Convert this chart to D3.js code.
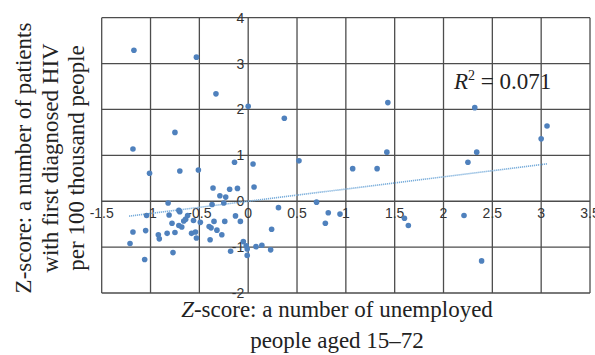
<!DOCTYPE html>
<html>
<head>
<meta charset="utf-8">
<script src="https://cdn.jsdelivr.net/npm/d3@7"></script>
<style>
  body { margin: 0; background: #fff; }
  svg { display: block; }
  .tick-label { font-family: "Liberation Sans", Arial, sans-serif; font-size: 14px; fill: #333; }
  .title { font-family: "Liberation Serif", "Times New Roman", serif; font-size: 23px; fill: #222; }
</style>
</head>
<body>
<div id="chart"></div>
<script>
//values
var xTicks = [-1.5, -1, -0.5, 0, 0.5, 1, 1.5, 2, 2.5, 3, 3.5];
var yTicks = [-2, -1, 0, 1, 2, 3, 4];

var unemployedZ = [
  -1.17, -0.53, -0.33, 0.37, -0.75, -1.18, -1.01, -0.70, -0.51, -0.14,
  0.05, 0.52, -0.36, -0.29, -0.23, -0.19, -0.11, 0.06, -0.82, -0.37,
  -0.25, -1.04, -0.81, -0.71, -0.70, -0.62, -0.64, -0.66, -0.56, -0.49,
  -0.35, -0.24, -0.13, -0.08, -0.78, -0.71, -0.68, -1.18, -1.05, -0.92,
  -0.91, -0.83, -0.75, -0.58, -0.54, -0.53, -0.40, -0.38, -0.32, -0.27,
  -0.39, -1.21, -0.77, -1.06, -0.18, -0.05, -0.02, -0.01, -0.01, 0.08,
  0.14, 0.23, 0.24, 0.31, 0.70, 0.82, 0.79, 0.94, 1.07, 1.32,
  1.43, 1.42, 1.60, 1.64, 2.21, 2.25, 2.34, 2.32, 2.39, 3.00,
  3.06, 0.00
];
var hivZ = [
  3.29, 3.14, 2.34, 1.81, 1.50, 1.14, 0.61, 0.66, 0.68, 0.85,
  0.81, 0.88, 0.29, 0.12, 0.09, 0.26, 0.28, 0.31, -0.04, -0.07,
  -0.04, -0.31, -0.30, -0.20, -0.23, -0.31, -0.39, -0.43, -0.42, -0.46,
  -0.44, -0.44, -0.32, -0.44, -0.48, -0.53, -0.56, -0.67, -0.64, -0.73,
  -0.82, -0.70, -0.68, -0.70, -0.67, -0.80, -0.55, -0.58, -0.63, -0.73,
  -0.84, -0.92, -1.12, -1.27, -1.09, -0.88, -0.97, -1.04, -1.18, -0.99,
  -0.96, -1.06, -0.61, -0.14, -0.02, -0.25, -0.48, -0.28, 0.71, 0.71,
  2.15, 1.07, -0.37, -0.53, -0.31, 0.85, 1.07, 2.04, -1.30, 1.36,
  1.64, 2.07
];

//linear trend
var trendRange = [-1.22, 3.06];
var trendSlope = 0.266;
var trendIntercept = 0;
var rSquared = "0.071";

var width = 595, height = 355;

var svg = d3.select("#chart").append("svg")
    .attr("width", width)
    .attr("height", height);

var xScale = d3.scaleLinear().domain([-1.5, 3.5]).range([101.7, 590]);
var yScale = d3.scaleLinear().domain([-2, 4]).range([293, 17.7]);

//grid
svg.selectAll(".vgrid")
    .data(xTicks)
    .enter()
    .append("line")
    .attr("x1", function(d){ return xScale(d); })
    .attr("x2", function(d){ return xScale(d); })
    .attr("y1", yScale(-2))
    .attr("y2", yScale(4))
    .attr("stroke", "#4d4d4d")
    .attr("stroke-width", 1.3);

svg.selectAll(".hgrid")
    .data(yTicks)
    .enter()
    .append("line")
    .attr("y1", function(d){ return yScale(d); })
    .attr("y2", function(d){ return yScale(d); })
    .attr("x1", xScale(-1.5))
    .attr("x2", xScale(3.5))
    .attr("stroke", "#4d4d4d")
    .attr("stroke-width", 1.3);

//tick labels sit on the zero lines
svg.selectAll(".xlab")
    .data(xTicks)
    .enter()
    .append("text")
    .attr("class", "tick-label")
    .attr("x", function(d){ return xScale(d); })
    .attr("y", yScale(0) + 12)
    .attr("text-anchor", "middle")
    .attr("dominant-baseline", "central")
    .text(function(d){ return String(d); });

svg.selectAll(".ylab")
    .data(yTicks)
    .enter()
    .append("text")
    .attr("class", "tick-label")
    .attr("x", xScale(0) - 4)
    .attr("y", function(d){ return yScale(d); })
    .attr("text-anchor", "end")
    .attr("dominant-baseline", "central")
    .text(function(d){ return d; });

//trend line
var line = d3.line()
    .x(function(d){ return xScale(d); })
    .y(function(d){ return yScale(trendIntercept + trendSlope * d); });

svg.append("path")
    .attr("d", line(trendRange))
    .attr("fill", "none")
    .attr("stroke", "#7aaedb")
    .attr("stroke-width", 1.6)
    .attr("stroke-dasharray", "1.2,0.8");

//points
svg.selectAll(".dot")
    .data(d3.range(unemployedZ.length))
    .enter()
    .append("circle")
    .attr("cx", function(i){ return xScale(unemployedZ[i]); })
    .attr("cy", function(i){ return yScale(hivZ[i]); })
    .attr("r", 2.8)
    .attr("fill", "#4f81bd");

//R squared
var r2 = svg.append("text")
    .attr("class", "title")
    .attr("x", 454)
    .attr("y", 89)
    .style("font-size", "23px");
r2.append("tspan").style("font-style", "italic").text("R");
r2.append("tspan").attr("dy", -9).style("font-size", "14px").text("2");
r2.append("tspan").attr("dy", 9).text(" = " + rSquared);

//axis titles
var xt = svg.append("text")
    .attr("class", "title")
    .attr("text-anchor", "middle");
xt.append("tspan").attr("x", 337).attr("y", 317)
  .append("tspan").style("font-style", "italic").text("Z");
xt.select("tspan").append("tspan").text("-score: a number of unemployed");
xt.append("tspan").attr("x", 337).attr("y", 348).text("people aged 15\u201372");

var yt = svg.append("text")
    .attr("class", "title")
    .attr("text-anchor", "middle")
    .attr("transform", "translate(0,158) rotate(-90)");
var yLines = ["Z-score: a number of patients", "with first diagnosed HIV", "per 100 thousand people"];
var yBase = [31, 57.5, 84];
yLines.forEach(function(t, i){
  yt.append("tspan").attr("x", 0).attr("y", yBase[i]).text(t);
});
</script>
</body>
</html>
